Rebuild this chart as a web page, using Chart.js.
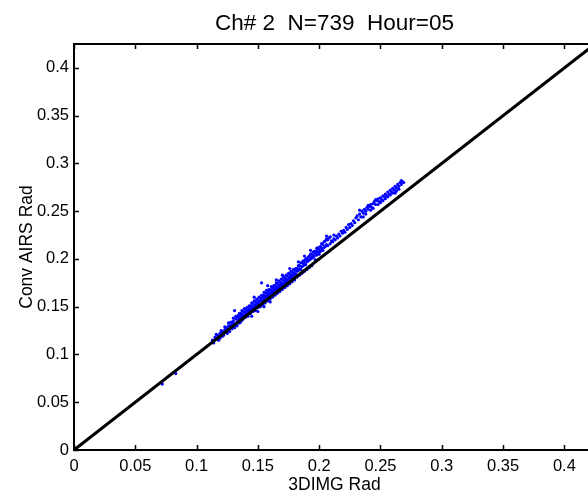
<!DOCTYPE html>
<html>
<head>
<meta charset="utf-8">
<script src="https://cdn.jsdelivr.net/npm/chart.js@4"></script>
<style>
    html, body { margin: 0; padding: 0; background: #fff; overflow: hidden; }
    #wrap { width: 588px; height: 494px; overflow: hidden; }
</style>
</head>
<body>
<div id="wrap"><canvas id="chart" width="600" height="494"></canvas></div>
<script>
    'use strict';

    var TITLE = 'Ch# 2  N=739  Hour=05';
    var X_LABEL = '3DIMG Rad';
    var Y_LABEL = 'Conv AIRS Rad';

    var AXIS_MAX = 0.425;
    var TICK_VALUES = [0, 0.05, 0.1, 0.15, 0.2, 0.25, 0.3, 0.35, 0.4];
    var TICK_LABELS = ['0', '0.05', '0.1', '0.15', '0.2', '0.25', '0.3', '0.35', '0.4'];

    // 1:1 reference line ends
    var ONE_TO_ONE = [[0, 0], [0.425, 0.425]];

    // [3DIMG, AIRS] radiance pairs (core of the cloud)
    var SAMPLES = [
        [0.072, 0.069], [0.083, 0.080],
        [0.113, 0.115], [0.115, 0.118], [0.116, 0.116], [0.117, 0.120], [0.118, 0.119],
        [0.119, 0.122], [0.120, 0.121], [0.121, 0.124], [0.121, 0.119], [0.122, 0.123],
        [0.123, 0.126], [0.124, 0.124], [0.124, 0.128], [0.125, 0.127], [0.126, 0.125],
        [0.126, 0.130], [0.127, 0.129], [0.128, 0.131], [0.128, 0.127], [0.129, 0.133],
        [0.130, 0.130], [0.130, 0.135], [0.131, 0.146], [0.131, 0.132], [0.132, 0.137],
        [0.133, 0.134], [0.133, 0.139], [0.134, 0.136], [0.134, 0.141], [0.135, 0.138],
        [0.135, 0.133], [0.136, 0.140], [0.136, 0.143], [0.137, 0.139], [0.137, 0.142],
        [0.138, 0.141], [0.138, 0.145], [0.139, 0.140], [0.139, 0.144], [0.140, 0.143],
        [0.140, 0.147], [0.141, 0.142], [0.141, 0.145], [0.142, 0.146], [0.142, 0.149],
        [0.143, 0.144], [0.143, 0.147], [0.144, 0.148], [0.144, 0.151], [0.145, 0.146],
        [0.145, 0.150], [0.146, 0.149], [0.146, 0.153], [0.147, 0.150], [0.147, 0.147],
        [0.148, 0.152], [0.148, 0.155], [0.149, 0.151], [0.149, 0.154], [0.150, 0.153],
        [0.150, 0.157], [0.151, 0.155], [0.151, 0.151], [0.152, 0.156], [0.152, 0.159],
        [0.153, 0.175], [0.153, 0.157], [0.154, 0.155], [0.154, 0.160], [0.155, 0.158],
        [0.155, 0.162], [0.156, 0.160], [0.156, 0.157], [0.157, 0.161], [0.157, 0.164],
        [0.158, 0.162], [0.158, 0.166], [0.159, 0.163], [0.159, 0.160], [0.160, 0.165],
        [0.160, 0.168], [0.161, 0.164], [0.161, 0.167], [0.162, 0.166], [0.162, 0.170],
        [0.163, 0.167], [0.163, 0.164], [0.164, 0.169], [0.164, 0.172], [0.165, 0.168],
        [0.165, 0.171], [0.166, 0.170], [0.166, 0.174], [0.167, 0.171], [0.167, 0.168],
        [0.168, 0.173], [0.168, 0.176], [0.169, 0.172], [0.169, 0.175], [0.170, 0.174],
        [0.170, 0.178], [0.171, 0.175], [0.171, 0.172], [0.172, 0.177], [0.172, 0.180],
        [0.173, 0.176], [0.173, 0.179], [0.174, 0.178], [0.174, 0.182], [0.175, 0.179],
        [0.175, 0.176], [0.176, 0.181], [0.176, 0.184], [0.177, 0.180], [0.177, 0.183],
        [0.178, 0.182], [0.178, 0.186], [0.179, 0.183], [0.180, 0.185], [0.180, 0.188],
        [0.181, 0.184], [0.182, 0.187], [0.182, 0.190], [0.183, 0.188], [0.184, 0.190],
        [0.184, 0.193], [0.185, 0.189], [0.186, 0.192], [0.186, 0.196], [0.187, 0.193],
        [0.188, 0.195], [0.188, 0.198], [0.189, 0.194], [0.190, 0.197], [0.190, 0.200],
        [0.191, 0.198], [0.192, 0.199], [0.192, 0.203], [0.193, 0.200], [0.194, 0.202],
        [0.195, 0.204], [0.195, 0.207], [0.196, 0.203], [0.197, 0.206], [0.198, 0.208],
        [0.198, 0.211], [0.199, 0.207], [0.200, 0.210], [0.201, 0.213], [0.202, 0.211],
        [0.203, 0.215], [0.204, 0.218], [0.205, 0.219], [0.206, 0.221], [0.207, 0.220],
        [0.208, 0.222], [0.204, 0.212], [0.206, 0.215], [0.210, 0.219], [0.212, 0.221],
        [0.214, 0.224], [0.216, 0.226], [0.218, 0.229], [0.220, 0.230], [0.222, 0.233],
        [0.224, 0.236], [0.226, 0.237], [0.228, 0.240], [0.230, 0.243], [0.231, 0.245],
        [0.233, 0.247], [0.234, 0.244], [0.235, 0.250], [0.236, 0.248], [0.237, 0.252],
        [0.238, 0.250], [0.239, 0.254], [0.240, 0.252], [0.241, 0.255], [0.242, 0.257],
        [0.243, 0.254], [0.244, 0.258], [0.245, 0.260], [0.246, 0.257], [0.247, 0.261],
        [0.248, 0.263], [0.249, 0.260], [0.250, 0.264], [0.251, 0.262], [0.252, 0.266],
        [0.253, 0.265], [0.254, 0.268], [0.255, 0.266], [0.256, 0.270], [0.257, 0.268],
        [0.258, 0.272], [0.259, 0.270], [0.260, 0.274], [0.261, 0.272], [0.262, 0.276],
        [0.263, 0.274], [0.264, 0.278], [0.265, 0.276], [0.266, 0.280], [0.267, 0.278],
        [0.268, 0.281], [0.262, 0.269]
    ];

    // looser points round the edges of the cloud
    var SPREAD = [
        [0.114, 0.112], [0.116, 0.121], [0.118, 0.115], [0.119, 0.117], [0.120, 0.125],
        [0.122, 0.120], [0.123, 0.129], [0.125, 0.122], [0.126, 0.133], [0.127, 0.124],
        [0.128, 0.134], [0.129, 0.127], [0.130, 0.138], [0.131, 0.128], [0.132, 0.131],
        [0.132, 0.140], [0.133, 0.130], [0.134, 0.133], [0.135, 0.143], [0.136, 0.134],
        [0.137, 0.136], [0.137, 0.146], [0.138, 0.137], [0.139, 0.148], [0.140, 0.139],
        [0.141, 0.149], [0.142, 0.140], [0.143, 0.151], [0.144, 0.143], [0.145, 0.154],
        [0.146, 0.145], [0.147, 0.156], [0.148, 0.146], [0.149, 0.158], [0.150, 0.149],
        [0.151, 0.160], [0.152, 0.150], [0.153, 0.162], [0.154, 0.152], [0.155, 0.165],
        [0.156, 0.154], [0.157, 0.167], [0.158, 0.156], [0.159, 0.168], [0.160, 0.158],
        [0.161, 0.171], [0.162, 0.160], [0.163, 0.172], [0.164, 0.162], [0.165, 0.175],
        [0.166, 0.164], [0.167, 0.177], [0.168, 0.166], [0.169, 0.179], [0.170, 0.168],
        [0.171, 0.181], [0.172, 0.170], [0.173, 0.183], [0.174, 0.172], [0.175, 0.185],
        [0.176, 0.174], [0.177, 0.187], [0.178, 0.176], [0.179, 0.189], [0.180, 0.178],
        [0.181, 0.190], [0.182, 0.181], [0.183, 0.193], [0.184, 0.183], [0.185, 0.196],
        [0.186, 0.185], [0.187, 0.198], [0.188, 0.187], [0.189, 0.200], [0.190, 0.189],
        [0.191, 0.202], [0.192, 0.191], [0.193, 0.205], [0.194, 0.193], [0.195, 0.201],
        [0.196, 0.208], [0.197, 0.199], [0.198, 0.204], [0.199, 0.212], [0.200, 0.205],
        [0.201, 0.208], [0.202, 0.216], [0.203, 0.209], [0.205, 0.213], [0.206, 0.224],
        [0.207, 0.214], [0.209, 0.216], [0.209, 0.223], [0.211, 0.218], [0.212, 0.225],
        [0.213, 0.220], [0.215, 0.222], [0.217, 0.224], [0.219, 0.227], [0.221, 0.228],
        [0.223, 0.231], [0.225, 0.233], [0.227, 0.235], [0.229, 0.238], [0.232, 0.241],
        [0.233, 0.251], [0.236, 0.244], [0.238, 0.247], [0.240, 0.256], [0.242, 0.251],
        [0.244, 0.253], [0.246, 0.262], [0.248, 0.257], [0.250, 0.259], [0.252, 0.261],
        [0.254, 0.263], [0.256, 0.265], [0.258, 0.267], [0.260, 0.269], [0.263, 0.271],
        [0.265, 0.273], [0.267, 0.282], [0.269, 0.280],
        [0.145, 0.140], [0.150, 0.145], [0.155, 0.150], [0.160, 0.155], [0.147, 0.160],
        [0.158, 0.172], [0.165, 0.178], [0.170, 0.183], [0.176, 0.190], [0.183, 0.197],
        [0.188, 0.203], [0.193, 0.209]
    ];

    var FONT = 'Liberation Sans, Arial, Helvetica, sans-serif';

    // inward ticks + full box, MATLAB style
    var frameTicks = {
        id: 'frameTicks',
        afterDatasetsDraw: function (chart) {
            var ctx = chart.ctx;
            var area = chart.chartArea;
            var xs = chart.scales.x;
            var ys = chart.scales.y;
            var len = 5;
            ctx.save();
            ctx.strokeStyle = '#000';
            ctx.lineWidth = 1.5;
            ctx.beginPath();
            TICK_VALUES.forEach(function (v) {
                var px = Math.round(xs.getPixelForValue(v)) + 0.5;
                ctx.moveTo(px, area.bottom);
                ctx.lineTo(px, area.bottom - len);
                ctx.moveTo(px, area.top);
                ctx.lineTo(px, area.top + len);
                var py = Math.round(ys.getPixelForValue(v)) + 0.5;
                ctx.moveTo(area.left, py);
                ctx.lineTo(area.left + len, py);
                ctx.moveTo(area.right, py);
                ctx.lineTo(area.right - len, py);
            });
            ctx.stroke();
            ctx.lineWidth = 2;
            ctx.strokeRect(area.left, area.top, area.right - area.left, area.bottom - area.top);
            ctx.restore();
        }
    };

    function toPoints(list) {
        return list.map(function (p) { return {x: p[0], y: p[1]}; });
    }

    var config = {
        type: 'scatter',
        data: {
            datasets: [{
                type: 'line',
                label: '1:1',
                data: toPoints(ONE_TO_ONE),
                borderColor: '#000',
                borderWidth: 3,
                pointRadius: 0,
                fill: false
            }, {
                label: 'samples',
                data: toPoints(SAMPLES.concat(SPREAD)),
                backgroundColor: '#0000ff',
                borderWidth: 0,
                pointRadius: 1.6
            }]
        },
        options: {
            responsive: false,
            animation: false,
            layout: { padding: { right: 5 } },
            plugins: {
                legend: { display: false },
                tooltip: { enabled: false },
                title: {
                    display: true,
                    fullSize: false,
                    text: TITLE,
                    color: '#000',
                    font: { family: FONT, size: 22.5, weight: 'normal' },
                    padding: { top: 10, bottom: 7 }
                }
            },
            scales: {
                x: {
                    type: 'linear',
                    min: 0,
                    max: AXIS_MAX,
                    afterFit: function (scale) { scale.height = 44; },
                    afterBuildTicks: function (scale) {
                        scale.ticks = TICK_VALUES.map(function (v) { return {value: v}; });
                    },
                    grid: { display: false, drawTicks: false },
                    border: { display: false },
                    ticks: {
                        color: '#000',
                        padding: 7,
                        maxRotation: 0,
                        font: { family: FONT, size: 16.5 },
                        callback: function (v, i) { return TICK_LABELS[i]; }
                    },
                    title: {
                        display: true,
                        text: X_LABEL,
                        color: '#000',
                        font: { family: FONT, size: 17.5 },
                        padding: { top: 0, bottom: -2 }
                    }
                },
                y: {
                    type: 'linear',
                    min: 0,
                    max: AXIS_MAX,
                    afterFit: function (scale) { scale.width = 74; },
                    afterBuildTicks: function (scale) {
                        scale.ticks = TICK_VALUES.map(function (v) { return {value: v}; });
                    },
                    grid: { display: false, drawTicks: false },
                    border: { display: false },
                    ticks: {
                        color: '#000',
                        padding: 5,
                        font: { family: FONT, size: 16.5 },
                        callback: function (v, i) { return TICK_LABELS[i]; }
                    },
                    title: {
                        display: true,
                        text: Y_LABEL,
                        color: '#000',
                        font: { family: FONT, size: 17.5 },
                        padding: { top: 16.5, bottom: 0 }
                    }
                }
            }
        },
        plugins: [frameTicks]
    };

    new Chart(document.getElementById('chart').getContext('2d'), config);
</script>
</body>
</html>
